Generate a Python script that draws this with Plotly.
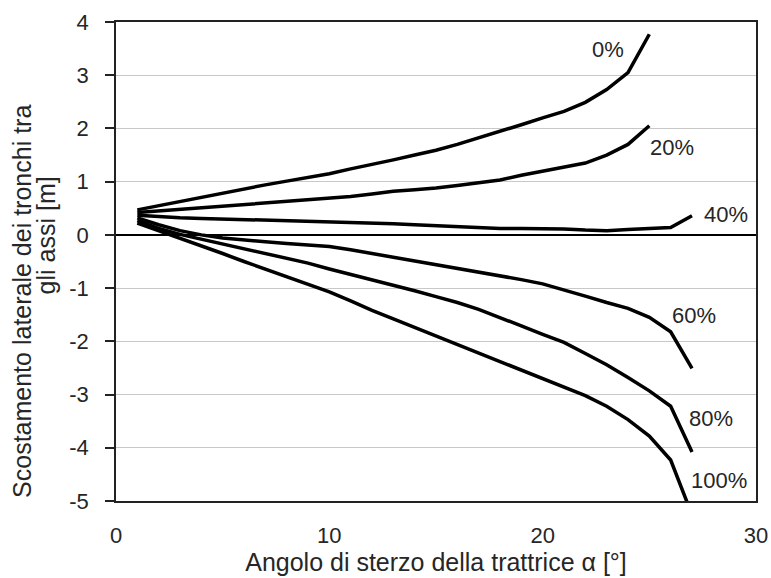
import plotly.graph_objects as go

# Steering angle of the tractor (degrees)
angle = list(range(1, 28))

# Lateral offset of the logs between the axles [m], one series per load share
off_0 = [0.47, 0.55, 0.63, 0.71, 0.79, 0.87, 0.94, 1.01, 1.08, 1.15, 1.24, 1.32, 1.41,
         1.50, 1.59, 1.70, 1.82, 1.95, 2.07, 2.20, 2.32, 2.49, 2.73, 3.05, 3.77]
off_20 = [0.42, 0.45, 0.48, 0.51, 0.54, 0.57, 0.59, 0.62, 0.65, 0.68, 0.72, 0.77, 0.82,
          0.85, 0.88, 0.93, 0.98, 1.03, 1.12, 1.20, 1.27, 1.35, 1.50, 1.70, 2.05]
off_40 = [0.37, 0.34, 0.32, 0.31, 0.30, 0.29, 0.28, 0.27, 0.26, 0.25, 0.24, 0.22, 0.21,
          0.19, 0.17, 0.15, 0.13, 0.12, 0.12, 0.12, 0.11, 0.09, 0.08, 0.10, 0.12, 0.14, 0.36]
off_60 = [0.32, 0.19, 0.08, 0.00, -0.06, -0.10, -0.13, -0.16, -0.19, -0.22, -0.28, -0.35,
          -0.41, -0.48, -0.55, -0.63, -0.70, -0.77, -0.84, -0.92, -1.03, -1.15, -1.27,
          -1.38, -1.55, -1.82, -2.51]
off_80 = [0.27, 0.12, 0.01, -0.08, -0.16, -0.25, -0.34, -0.43, -0.53, -0.64, -0.74, -0.84,
          -0.94, -1.05, -1.16, -1.27, -1.40, -1.55, -1.71, -1.87, -2.02, -2.23, -2.44,
          -2.68, -2.93, -3.22, -4.08]
off_100 = [0.22, 0.08, -0.07, -0.21, -0.35, -0.50, -0.64, -0.78, -0.92, -1.07, -1.24, -1.42,
           -1.58, -1.74, -1.90, -2.06, -2.22, -2.38, -2.53, -2.70, -2.85, -3.02, -3.22,
           -3.47, -3.78, -4.23, -5.26]

series = [("0%", off_0), ("20%", off_20), ("40%", off_40),
          ("60%", off_60), ("80%", off_80), ("100%", off_100)]

# Where each series label sits (data coordinates)
label_pos = {"0%": (23.06, 3.48), "20%": (26.05, 1.64), "40%": (28.6, 0.38),
             "60%": (27.1, -1.51), "80%": (27.9, -3.45), "100%": (28.26, -4.61)}

y_ticks = [4, 3, 2, 1, 0, -1, -2, -3, -4, -5]
y_tick_text = ["4", "3", "2", "1", "0", "-1", "-2", "-3", "-4", "-5"]
x_ticks = [0, 10, 20, 30]

x_title = "Angolo di sterzo della trattrice α [°]"
y_title_lines = ["Scostamento laterale dei tronchi tra", "gli assi [m]"]

FONT = "Liberation Sans, Arial, sans-serif"
TEXT = "#262626"

fig = go.Figure()
for name, vals in series:
    fig.add_trace(go.Scatter(
        x=angle[:len(vals)], y=vals, mode="lines", name=name,
        line=dict(color="black", width=3.5, shape="linear"),
        showlegend=False, hoverinfo="skip",
    ))

for name, (lx, ly) in label_pos.items():
    fig.add_annotation(x=lx, y=ly, text=name, showarrow=False,
                       font=dict(family=FONT, size=22, color=TEXT))

# Vertical axis title, two rotated lines placed to the left of the tick labels
for line_text, (px, py) in zip(y_title_lines, [(-0.147, 0.4175), (-0.109, 0.555)]):
    fig.add_annotation(xref="paper", yref="paper", x=px, y=py,
                       xanchor="center", yanchor="middle", textangle=-90,
                       text=line_text, showarrow=False,
                       font=dict(family=FONT, size=25, color=TEXT))

fig.update_layout(
    width=771, height=578,
    margin=dict(l=116, r=15, t=22, b=77),
    paper_bgcolor="white", plot_bgcolor="white",
    font=dict(family=FONT, size=22, color=TEXT),
    xaxis=dict(
        range=[0, 30], tickvals=x_ticks, ticks="", showgrid=False,
        zeroline=False, showline=True, linecolor="#222222", linewidth=1.5,
        mirror=True, ticklabelstandoff=14, automargin=False,
        title=dict(text=x_title, font=dict(size=25), standoff=3),
    ),
    yaxis=dict(
        range=[-5, 4], tickvals=y_ticks, ticktext=y_tick_text,
        ticks="outside", ticklen=9, tickcolor="#222222", tickwidth=1.5,
        showgrid=True, gridcolor="#c8c8c8", gridwidth=1.2,
        zeroline=True, zerolinecolor="black", zerolinewidth=1.5,
        showline=True, linecolor="#222222", linewidth=1.5, mirror=True,
        ticklabelstandoff=12, automargin=False,
    ),
)

fig.write_html("out.html")
